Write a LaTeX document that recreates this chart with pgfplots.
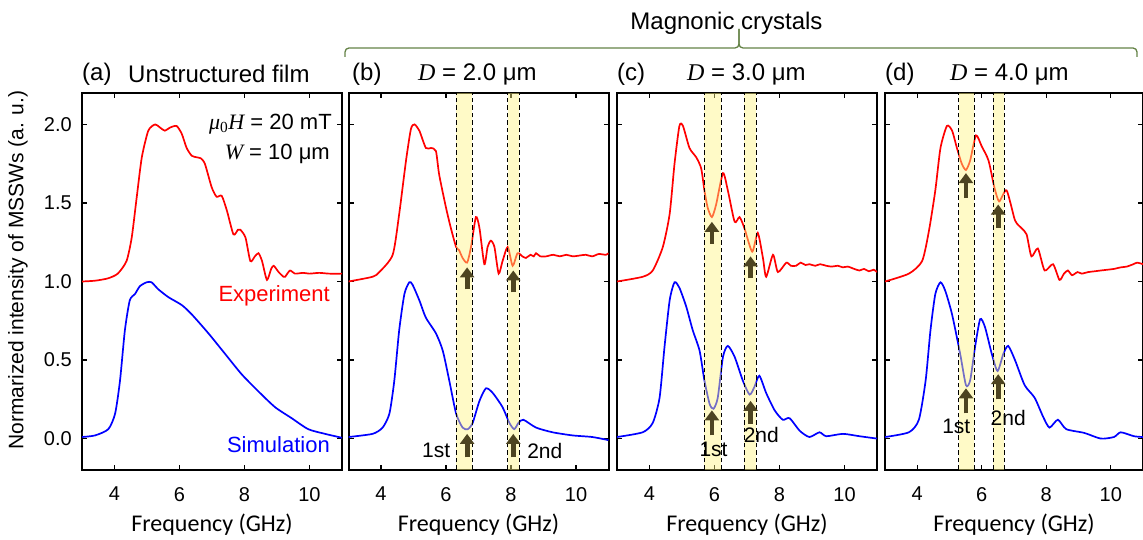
\documentclass[border=0pt]{standalone}
\usepackage{fontspec}
\setmainfont{Liberation Sans}
\newfontfamily\tnr{Liberation Serif}
\newfontfamily\carl{Carlito}
\usepackage{pgfplots}
\pgfplotsset{compat=1.18}
\usetikzlibrary{arrows.meta}
\definecolor{arr}{RGB}{77,68,33}
\definecolor{bandc}{RGB}{255,245,130}
\definecolor{brk}{RGB}{100,130,70}
\newcommand\fs[1]{\fontsize{#1}{#1}\selectfont}
\newcommand\band[2]{%
  \fill[bandc,opacity=0.45] (axis cs:#1,-0.2) rectangle (axis cs:#2,2.2);
  \draw[black,line width=1pt,dash pattern=on 4.5pt off 3pt] (axis cs:#1,-0.2) -- (axis cs:#1,2.2);
  \draw[black,line width=1pt,dash pattern=on 4.5pt off 3pt] (axis cs:#2,-0.2) -- (axis cs:#2,2.2);}
\newcommand\arrw[3]{\draw[arr,line width=4.8pt,-{Triangle[width=14pt,length=10pt]}] (axis cs:#1,#2) -- (axis cs:#1,#3);}
\pgfplotsset{panel/.style={scale only axis, width=260pt, height=377pt,
  xmin=3, xmax=11, ymin=-0.2, ymax=2.2,
  xtick={4,6,8,10}, ytick={0,0.5,1,1.5,2},
  axis line style={line width=2pt},
  tick style={line width=1.3pt,black}, major tick length=5pt, tick align=inside,
  /pgf/number format/assume math mode=true,
  yticklabel style={/pgf/number format/fixed,/pgf/number format/fixed zerofill,/pgf/number format/precision=1},
  every tick label/.append style={font=\fs{20}},
  xticklabel style={inner sep=0pt,yshift=-17pt},
  yticklabel style={inner sep=0pt,xshift=-10pt},
  xlabel={Frequency (GHz)},
  xlabel style={font=\carl\fs{24}, anchor=center, at={(axis description cs:0.5,-0.146)}},
  every axis plot/.append style={line width=1.7pt, no marks, smooth, tension=0.4},
}}
\begin{document}
\begin{tikzpicture}
\useasboundingbox (0pt,0pt) rectangle (1143pt,540pt);
% ---------- (a)
\begin{axis}[panel, at={(82pt,70pt)}]
\addplot[red] coordinates {(3.0,1.00) (3.4,1.005) (3.8,1.02) (4.1,1.05) (4.37,1.13) (4.53,1.28) (4.68,1.53) (4.84,1.79) (5.04,1.96) (5.25,2.00) (5.40,1.98) (5.55,1.96) (5.71,1.98) (5.91,1.99) (6.07,1.94) (6.22,1.85) (6.38,1.80) (6.55,1.79) (6.65,1.785) (6.78,1.75) (6.99,1.60) (7.14,1.54) (7.30,1.545) (7.46,1.45) (7.66,1.30) (7.80,1.33) (7.87,1.33) (8.03,1.28) (8.18,1.13) (8.32,1.16) (8.43,1.18) (8.54,1.13) (8.69,1.01) (8.82,1.08) (8.9,1.10) (9.05,1.06) (9.2,1.03) (9.25,1.03) (9.4,1.07) (9.55,1.05) (9.8,1.055) (10.0,1.05) (10.3,1.055) (10.6,1.05) (11.0,1.05)};
\addplot[blue] coordinates {(3.0,0.01) (3.4,0.02) (3.81,0.06) (4.02,0.16) (4.17,0.37) (4.32,0.69) (4.47,0.88) (4.63,0.92) (4.78,0.97) (4.99,0.995) (5.14,0.995) (5.35,0.95) (5.66,0.90) (6.07,0.85) (6.38,0.79) (6.89,0.67) (7.4,0.54) (7.91,0.41) (8.43,0.30) (8.94,0.20) (9.45,0.13) (9.96,0.06) (10.48,0.03) (11.0,0.005)};
\node[anchor=east,red,font=\fs{22},inner sep=0pt] at (axis cs:10.63,0.91) {Experiment};
\node[anchor=east,blue,font=\fs{22},inner sep=0pt] at (axis cs:10.63,-0.04) {Simulation};
\node[anchor=east,font=\fs{22},inner sep=0pt] at (axis cs:10.69,2.0) {{\tnr\itshape μ}{\tnr\textsubscript{0}}{\tnr\itshape H} = 20 mT};
\node[anchor=east,font=\fs{22},inner sep=0pt] at (axis cs:10.63,1.81) {{\tnr\itshape W} = 10 μm};
\end{axis}
% ---------- (b)
\begin{axis}[panel, at={(348.5pt,70pt)}, yticklabels={}]
\addplot[red] coordinates {(3.0,1.0) (3.74,1.03) (3.95,1.06) (4.36,1.17) (4.56,1.43) (4.77,1.77) (4.92,1.97) (5.03,2.0) (5.18,1.96) (5.38,1.85) (5.54,1.85) (5.69,1.83) (5.79,1.68) (6.0,1.47) (6.15,1.34) (6.31,1.22) (6.40,1.20) (6.51,1.15) (6.65,1.12) (6.77,1.22) (6.92,1.41) (7.03,1.34) (7.18,1.11) (7.28,1.22) (7.38,1.26) (7.49,1.22) (7.62,1.05) (7.74,1.13) (7.9,1.22) (8.05,1.10) (8.2,1.18) (8.35,1.16) (8.46,1.15) (8.6,1.17) (8.7,1.16) (8.77,1.18) (8.9,1.16) (9.08,1.16) (9.3,1.17) (9.5,1.16) (9.7,1.17) (9.9,1.16) (10.1,1.165) (10.3,1.17) (10.5,1.16) (10.7,1.175) (10.92,1.17) (11.0,1.18)};
\addplot[blue] coordinates {(3.0,0.01) (3.74,0.03) (4.05,0.07) (4.26,0.16) (4.41,0.37) (4.56,0.69) (4.72,0.92) (4.87,0.995) (4.97,0.98) (5.18,0.88) (5.38,0.77) (5.69,0.67) (5.9,0.56) (6.1,0.37) (6.31,0.16) (6.51,0.07) (6.67,0.06) (6.82,0.10) (7.03,0.24) (7.23,0.32) (7.44,0.29) (7.74,0.20) (7.95,0.10) (8.1,0.06) (8.23,0.10) (8.38,0.12) (8.77,0.07) (9.28,0.04) (9.9,0.02) (10.5,0.01) (11.0,-0.01)};
\band{6.31}{6.80}
\band{7.90}{8.26}
\arrw{6.65}{0.95}{1.09}
\arrw{8.07}{0.93}{1.07}
\arrw{6.65}{-0.12}{0.03}
\arrw{8.07}{-0.12}{0.03}
\node[font=\fs{21},inner sep=0pt] at (axis cs:5.70,-0.076) {1st};
\node[font=\fs{21},inner sep=0pt] at (axis cs:9.04,-0.076) {2nd};
\end{axis}
% ---------- (c)
\begin{axis}[panel, at={(617pt,70pt)}, yticklabels={}]
\addplot[red] coordinates {(3.0,1.0) (3.79,1.03) (4.1,1.07) (4.41,1.22) (4.62,1.43) (4.77,1.75) (4.92,1.99) (5.03,1.99) (5.23,1.85) (5.44,1.79) (5.59,1.72) (5.69,1.58) (5.79,1.47) (5.92,1.41) (6.05,1.49) (6.26,1.69) (6.41,1.58) (6.62,1.38) (6.77,1.41) (6.92,1.34) (7.16,1.19) (7.33,1.31) (7.49,1.15) (7.59,1.03) (7.8,1.17) (7.95,1.06) (8.21,1.12) (8.35,1.10) (8.51,1.10) (8.65,1.12) (8.8,1.105) (8.92,1.11) (9.1,1.10) (9.25,1.11) (9.44,1.10) (9.6,1.095) (9.8,1.10) (9.95,1.09) (10.1,1.095) (10.3,1.08) (10.46,1.07) (10.6,1.08) (10.75,1.065) (10.9,1.075) (11.0,1.06)};
\addplot[blue] coordinates {(3.0,0.01) (3.79,0.04) (4.1,0.10) (4.31,0.26) (4.46,0.58) (4.62,0.88) (4.77,0.995) (4.92,0.96) (5.13,0.84) (5.33,0.69) (5.54,0.56) (5.69,0.37) (5.85,0.22) (5.97,0.19) (6.1,0.26) (6.26,0.52) (6.41,0.59) (6.62,0.52) (6.87,0.37) (7.08,0.28) (7.23,0.33) (7.38,0.40) (7.59,0.29) (7.85,0.18) (8.1,0.12) (8.31,0.13) (8.62,0.05) (8.92,0.01) (9.23,0.04) (9.44,0.015) (9.95,0.03) (10.46,0.015) (11.0,0.0)};
\band{5.69}{6.20}
\band{6.92}{7.28}
\arrw{5.92}{1.24}{1.38}
\arrw{7.11}{1.02}{1.16}
\arrw{5.92}{0.02}{0.18}
\arrw{7.11}{0.095}{0.24}
\node[font=\fs{21},inner sep=0pt] at (axis cs:5.97,-0.07) {1st};
\node[font=\fs{21},inner sep=0pt] at (axis cs:7.44,0.02) {2nd};
\end{axis}
% ---------- (d)
\begin{axis}[panel, at={(885pt,70pt)}, width=258pt, yticklabels={}]
\addplot[red] coordinates {(3.0,1.0) (3.74,1.05) (4.15,1.13) (4.36,1.32) (4.56,1.58) (4.72,1.85) (4.92,1.99) (5.08,1.96) (5.23,1.85) (5.38,1.75) (5.51,1.71) (5.64,1.77) (5.82,1.93) (6.0,1.86) (6.21,1.77) (6.39,1.60) (6.54,1.51) (6.77,1.58) (7.03,1.39) (7.23,1.34) (7.39,1.30) (7.54,1.16) (7.74,1.21) (7.95,1.07) (8.21,1.11) (8.41,1.01) (8.55,1.05) (8.67,1.07) (8.8,1.04) (8.97,1.06) (9.1,1.05) (9.3,1.06) (9.5,1.065) (9.69,1.07) (9.9,1.075) (10.1,1.08) (10.31,1.09) (10.5,1.095) (10.7,1.11) (10.82,1.12) (11.0,1.11)};
\addplot[blue] coordinates {(3.0,0.01) (3.74,0.04) (4.05,0.12) (4.26,0.37) (4.41,0.69) (4.56,0.92) (4.72,0.995) (4.87,0.94) (5.08,0.79) (5.33,0.54) (5.51,0.34) (5.64,0.37) (5.79,0.58) (5.95,0.76) (6.1,0.71) (6.31,0.54) (6.49,0.43) (6.67,0.54) (6.82,0.59) (7.03,0.50) (7.33,0.34) (7.64,0.26) (7.9,0.14) (8.1,0.07) (8.36,0.12) (8.62,0.06) (9.18,0.036) (9.69,0.0) (10.1,0.01) (10.31,0.04) (10.72,0.015) (11.0,0.01)};
\band{5.28}{5.77}
\band{6.36}{6.69}
\arrw{5.51}{1.53}{1.69}
\arrw{6.51}{1.34}{1.49}
\arrw{5.51}{0.16}{0.32}
\arrw{6.51}{0.25}{0.41}
\node[font=\fs{21},inner sep=0pt] at (axis cs:5.21,0.076) {1st};
\node[font=\fs{21},inner sep=0pt] at (axis cs:6.82,0.13) {2nd};
\end{axis}
% ---------- titles
\node[anchor=west,font=\fs{24},inner sep=0pt] at (82pt,466pt) {(a)};
\node[anchor=west,font=\fs{24},inner sep=0pt] at (128pt,466pt) {Unstructured film};
\node[anchor=west,font=\fs{24},inner sep=0pt] at (352pt,466pt) {(b)};
\node[anchor=west,font=\fs{24},inner sep=0pt] at (418pt,466pt) {{\tnr\itshape D} = 2.0 μm};
\node[anchor=west,font=\fs{24},inner sep=0pt] at (617pt,466pt) {(c)};
\node[anchor=west,font=\fs{24},inner sep=0pt] at (687pt,466pt) {{\tnr\itshape D} = 3.0 μm};
\node[anchor=west,font=\fs{24},inner sep=0pt] at (885pt,466pt) {(d)};
\node[anchor=west,font=\fs{24},inner sep=0pt] at (950pt,466pt) {{\tnr\itshape D} = 4.0 μm};
\node[font=\fs{24},inner sep=0pt] at (726.5pt,517pt) {Magnonic crystals};
\draw[brk,line width=1.3pt,rounded corners=4pt] (345pt,483pt) -- (345pt,492pt) -- (739pt,492pt) -- (739pt,511pt);
\draw[brk,line width=1.3pt,rounded corners=4pt] (739pt,511pt) -- (739pt,492pt) -- (1137pt,492pt) -- (1137pt,483pt);
\node[rotate=90,font=\fs{21},inner sep=0pt] at (18pt,270pt) {Normarized intensity of MSSWs (a. u.)};
\end{tikzpicture}
\end{document}
